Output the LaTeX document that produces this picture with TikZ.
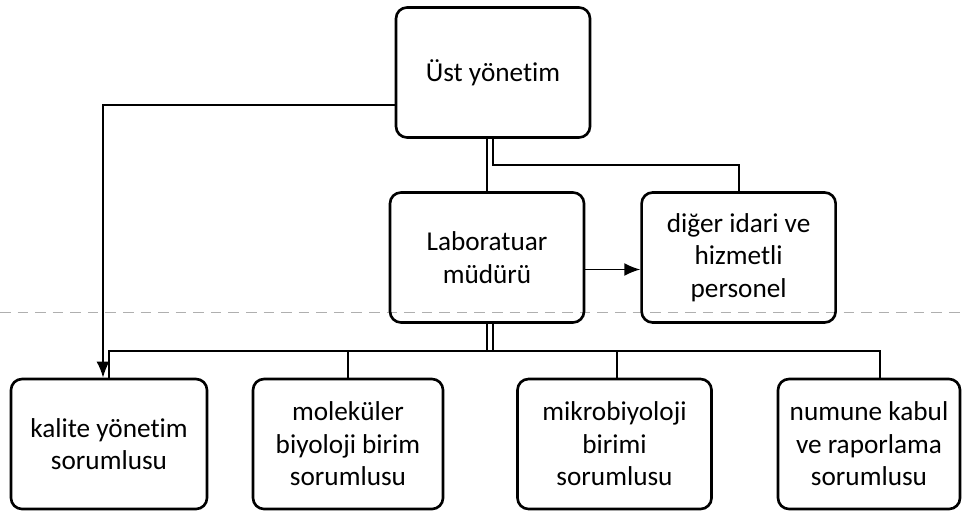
\documentclass[tikz,border=0pt]{standalone}
\usepackage{fontspec}
\setmainfont{Carlito}[Ligatures={NoCommon,NoRequired,NoContextual}]
\usepackage{tikz}
\usetikzlibrary{arrows.meta,positioning}
\definecolor{scangray}{RGB}{175,175,175}

\begin{document}
\begin{tikzpicture}[
        box/.style={rounded corners=0.22cm, draw=black, line width=1.5pt, minimum width=3.88cm, minimum height=2.6cm, align=center, inner sep=2pt, font=\fontsize{15.5}{18.5}\selectfont},
        ln/.style={draw=black, line width=1.1pt},
        arr/.style={-{Latex[length=0.32cm,width=0.26cm]}, draw=black, line width=1.1pt}
      ]
        \useasboundingbox (0,0) rectangle (19.26,-10.22);
        % faint fold line of the scan
        \coordinate (scanL) at (0,-6.24);
        \coordinate (scanR) at (19.26,-6.24);
        \draw[scangray, line width=0.5pt, dash pattern=on 6pt off 4pt] (scanL) -- (scanR);

        \node[box] (top) at (9.86,-1.45) {Üst yönetim};
        \node[box] (lab) at (9.74,-5.15) {Laboratuar\\müdürü};
        \node[box, right=1.1cm of lab] (diger) {diğer idari ve\\hizmetli\\personel};

        \node[box, minimum width=3.92cm] (kalite) at (2.18,-8.88) {kalite yönetim\\sorumlusu};
        \node[box, minimum width=3.8cm] (molek) at (6.96,-8.88) {moleküler\\biyoloji birim\\sorumlusu};
        \node[box] (mikro) at (12.29,-8.88) {mikrobiyoloji\\birimi\\sorumlusu};
        \node[box, minimum width=3.64cm] (numune) at (17.38,-8.88) {numune kabul\\ve raporlama\\sorumlusu};

        % upper links
        \draw[arr] ([yshift=-0.65cm]top.west) -| ([xshift=-0.12cm]kalite.north);
        \draw[ln] (lab.north |- top.south) -- (lab.north);
        \draw[ln] (top.south) -- ++(0,-0.52) -| (diger.north);
        \draw[arr] ([yshift=-0.24cm]lab.east) -- ([yshift=-0.24cm]diger.west);

        % lower bus
        \draw[ln] (lab.south) -- ++(0,-0.56);
        \draw[ln] ([xshift=0.12cm]lab.south) -- ++(0,-0.56);
        \draw[ln] (kalite.north) -- ++(0,0.54) -| ([xshift=0.22cm]numune.north);
        \draw[ln] (molek.north) -- ++(0,0.54);
        \draw[ln] ([xshift=0.05cm]mikro.north) -- ++(0,0.54);
      \end{tikzpicture}
\end{document}
